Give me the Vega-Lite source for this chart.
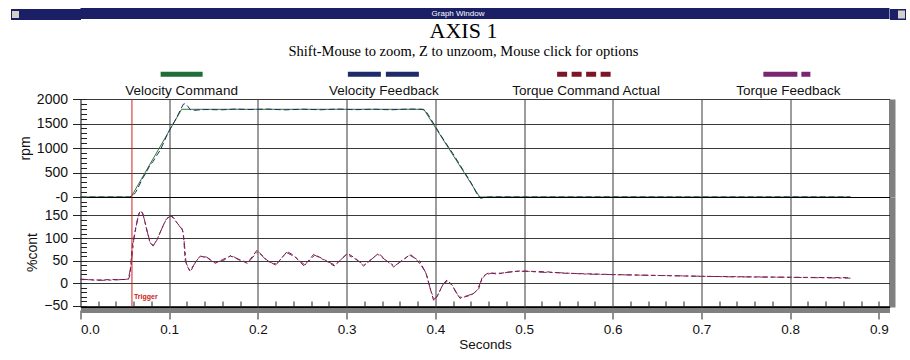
{
  "$schema": "https://vega.github.io/schema/vega-lite/v6.json",
  "background": "white",
  "padding": {"left": 4.5, "top": 7, "right": 0, "bottom": 0},
  "spacing": -1,
  "config": {
    "font": "Liberation Sans",
    "view": {"stroke": "black", "strokeWidth": 1},
    "axis": {"labelFont": "Liberation Sans", "titleFont": "Liberation Sans", "labelColor": "#111111", "titleColor": "#111111", "titleFontWeight": "normal", "tickColor": "#222222", "gridColor": "#3a3a3a", "gridOpacity": 1, "gridWidth": 1, "domain": false},
    "concat": {"spacing": 0}
  },
  "datasets": {
    "legend": [
      {"series": "Velocity Command"},
      {"series": "Velocity Feedback"},
      {"series": "Torque Command Actual"},
      {"series": "Torque Feedback"}
    ],
    "trigger": [{"trigger": 0.058, "label": "Trigger"}],
    "velocity": [
      {"series": "Velocity Command", "t": 0, "value": 0},
      {"series": "Velocity Command", "t": 0.057, "value": 0},
      {"series": "Velocity Command", "t": 0.114, "value": 1790},
      {"series": "Velocity Command", "t": 0.387, "value": 1790},
      {"series": "Velocity Command", "t": 0.45, "value": 0},
      {"series": "Velocity Command", "t": 0.868, "value": 0},
      {"series": "Velocity Feedback", "t": 0, "value": 0},
      {"series": "Velocity Feedback", "t": 0.055, "value": 0},
      {"series": "Velocity Feedback", "t": 0.058, "value": 10},
      {"series": "Velocity Feedback", "t": 0.062, "value": 90},
      {"series": "Velocity Feedback", "t": 0.066, "value": 230},
      {"series": "Velocity Feedback", "t": 0.07, "value": 380},
      {"series": "Velocity Feedback", "t": 0.074, "value": 500},
      {"series": "Velocity Feedback", "t": 0.078, "value": 640},
      {"series": "Velocity Feedback", "t": 0.082, "value": 730},
      {"series": "Velocity Feedback", "t": 0.086, "value": 850},
      {"series": "Velocity Feedback", "t": 0.09, "value": 960},
      {"series": "Velocity Feedback", "t": 0.094, "value": 1120},
      {"series": "Velocity Feedback", "t": 0.098, "value": 1280},
      {"series": "Velocity Feedback", "t": 0.102, "value": 1420},
      {"series": "Velocity Feedback", "t": 0.106, "value": 1540},
      {"series": "Velocity Feedback", "t": 0.11, "value": 1680},
      {"series": "Velocity Feedback", "t": 0.113, "value": 1790},
      {"series": "Velocity Feedback", "t": 0.116, "value": 1895},
      {"series": "Velocity Feedback", "t": 0.118, "value": 1905},
      {"series": "Velocity Feedback", "t": 0.121, "value": 1850},
      {"series": "Velocity Feedback", "t": 0.124, "value": 1775},
      {"series": "Velocity Feedback", "t": 0.128, "value": 1770},
      {"series": "Velocity Feedback", "t": 0.14, "value": 1785},
      {"series": "Velocity Feedback", "t": 0.16, "value": 1780},
      {"series": "Velocity Feedback", "t": 0.175, "value": 1795},
      {"series": "Velocity Feedback", "t": 0.19, "value": 1785},
      {"series": "Velocity Feedback", "t": 0.21, "value": 1795},
      {"series": "Velocity Feedback", "t": 0.23, "value": 1778},
      {"series": "Velocity Feedback", "t": 0.25, "value": 1792},
      {"series": "Velocity Feedback", "t": 0.27, "value": 1780},
      {"series": "Velocity Feedback", "t": 0.29, "value": 1795},
      {"series": "Velocity Feedback", "t": 0.31, "value": 1782},
      {"series": "Velocity Feedback", "t": 0.33, "value": 1792},
      {"series": "Velocity Feedback", "t": 0.35, "value": 1780},
      {"series": "Velocity Feedback", "t": 0.37, "value": 1795},
      {"series": "Velocity Feedback", "t": 0.385, "value": 1790},
      {"series": "Velocity Feedback", "t": 0.389, "value": 1760},
      {"series": "Velocity Feedback", "t": 0.393, "value": 1650},
      {"series": "Velocity Feedback", "t": 0.4, "value": 1440},
      {"series": "Velocity Feedback", "t": 0.41, "value": 1150},
      {"series": "Velocity Feedback", "t": 0.42, "value": 880},
      {"series": "Velocity Feedback", "t": 0.43, "value": 590},
      {"series": "Velocity Feedback", "t": 0.44, "value": 300},
      {"series": "Velocity Feedback", "t": 0.447, "value": 60},
      {"series": "Velocity Feedback", "t": 0.451, "value": -27},
      {"series": "Velocity Feedback", "t": 0.456, "value": -5},
      {"series": "Velocity Feedback", "t": 0.465, "value": 3},
      {"series": "Velocity Feedback", "t": 0.5, "value": 0},
      {"series": "Velocity Feedback", "t": 0.6, "value": 2},
      {"series": "Velocity Feedback", "t": 0.7, "value": 0},
      {"series": "Velocity Feedback", "t": 0.8, "value": 2},
      {"series": "Velocity Feedback", "t": 0.868, "value": 0}
    ],
    "torque": [
      {"series": "Torque Command Actual", "t": 0, "value": 8},
      {"series": "Torque Command Actual", "t": 0.02, "value": 7},
      {"series": "Torque Command Actual", "t": 0.04, "value": 8},
      {"series": "Torque Command Actual", "t": 0.054, "value": 8},
      {"series": "Torque Command Actual", "t": 0.056, "value": 20},
      {"series": "Torque Command Actual", "t": 0.058, "value": 78},
      {"series": "Torque Command Actual", "t": 0.062, "value": 120},
      {"series": "Torque Command Actual", "t": 0.066, "value": 155},
      {"series": "Torque Command Actual", "t": 0.068, "value": 161},
      {"series": "Torque Command Actual", "t": 0.071, "value": 150},
      {"series": "Torque Command Actual", "t": 0.075, "value": 115},
      {"series": "Torque Command Actual", "t": 0.079, "value": 88},
      {"series": "Torque Command Actual", "t": 0.082, "value": 84},
      {"series": "Torque Command Actual", "t": 0.086, "value": 95},
      {"series": "Torque Command Actual", "t": 0.091, "value": 118},
      {"series": "Torque Command Actual", "t": 0.096, "value": 140},
      {"series": "Torque Command Actual", "t": 0.1015, "value": 151},
      {"series": "Torque Command Actual", "t": 0.105, "value": 145},
      {"series": "Torque Command Actual", "t": 0.109, "value": 133},
      {"series": "Torque Command Actual", "t": 0.114, "value": 122},
      {"series": "Torque Command Actual", "t": 0.116, "value": 111},
      {"series": "Torque Command Actual", "t": 0.118, "value": 51},
      {"series": "Torque Command Actual", "t": 0.121, "value": 35},
      {"series": "Torque Command Actual", "t": 0.124, "value": 25},
      {"series": "Torque Command Actual", "t": 0.129, "value": 45},
      {"series": "Torque Command Actual", "t": 0.135, "value": 60},
      {"series": "Torque Command Actual", "t": 0.143, "value": 56},
      {"series": "Torque Command Actual", "t": 0.152, "value": 44},
      {"series": "Torque Command Actual", "t": 0.16, "value": 52},
      {"series": "Torque Command Actual", "t": 0.169, "value": 60},
      {"series": "Torque Command Actual", "t": 0.176, "value": 55},
      {"series": "Torque Command Actual", "t": 0.188, "value": 44},
      {"series": "Torque Command Actual", "t": 0.199, "value": 73},
      {"series": "Torque Command Actual", "t": 0.21, "value": 51},
      {"series": "Torque Command Actual", "t": 0.22, "value": 40},
      {"series": "Torque Command Actual", "t": 0.233, "value": 70},
      {"series": "Torque Command Actual", "t": 0.24, "value": 62},
      {"series": "Torque Command Actual", "t": 0.252, "value": 38},
      {"series": "Torque Command Actual", "t": 0.263, "value": 64},
      {"series": "Torque Command Actual", "t": 0.275, "value": 52},
      {"series": "Torque Command Actual", "t": 0.286, "value": 38},
      {"series": "Torque Command Actual", "t": 0.301, "value": 66},
      {"series": "Torque Command Actual", "t": 0.31, "value": 55},
      {"series": "Torque Command Actual", "t": 0.319, "value": 38},
      {"series": "Torque Command Actual", "t": 0.336, "value": 66},
      {"series": "Torque Command Actual", "t": 0.345, "value": 50},
      {"series": "Torque Command Actual", "t": 0.353, "value": 36},
      {"series": "Torque Command Actual", "t": 0.372, "value": 64},
      {"series": "Torque Command Actual", "t": 0.381, "value": 47},
      {"series": "Torque Command Actual", "t": 0.389, "value": 25},
      {"series": "Torque Command Actual", "t": 0.394, "value": -10},
      {"series": "Torque Command Actual", "t": 0.398, "value": -38},
      {"series": "Torque Command Actual", "t": 0.402, "value": -30},
      {"series": "Torque Command Actual", "t": 0.408, "value": -5},
      {"series": "Torque Command Actual", "t": 0.413, "value": 7},
      {"series": "Torque Command Actual", "t": 0.419, "value": -4},
      {"series": "Torque Command Actual", "t": 0.423, "value": -20},
      {"series": "Torque Command Actual", "t": 0.428, "value": -34},
      {"series": "Torque Command Actual", "t": 0.434, "value": -30},
      {"series": "Torque Command Actual", "t": 0.44, "value": -27},
      {"series": "Torque Command Actual", "t": 0.445, "value": -20},
      {"series": "Torque Command Actual", "t": 0.449, "value": -12},
      {"series": "Torque Command Actual", "t": 0.453, "value": 14},
      {"series": "Torque Command Actual", "t": 0.46, "value": 23},
      {"series": "Torque Command Actual", "t": 0.47, "value": 20},
      {"series": "Torque Command Actual", "t": 0.48, "value": 24},
      {"series": "Torque Command Actual", "t": 0.496, "value": 27},
      {"series": "Torque Command Actual", "t": 0.51, "value": 26},
      {"series": "Torque Command Actual", "t": 0.526, "value": 25},
      {"series": "Torque Command Actual", "t": 0.545, "value": 22},
      {"series": "Torque Command Actual", "t": 0.564, "value": 21},
      {"series": "Torque Command Actual", "t": 0.6, "value": 19},
      {"series": "Torque Command Actual", "t": 0.65, "value": 17},
      {"series": "Torque Command Actual", "t": 0.7, "value": 15},
      {"series": "Torque Command Actual", "t": 0.75, "value": 14},
      {"series": "Torque Command Actual", "t": 0.8, "value": 13},
      {"series": "Torque Command Actual", "t": 0.868, "value": 12},
      {"series": "Torque Feedback", "t": 0, "value": 9},
      {"series": "Torque Feedback", "t": 0.02, "value": 6},
      {"series": "Torque Feedback", "t": 0.04, "value": 7},
      {"series": "Torque Feedback", "t": 0.054, "value": 9},
      {"series": "Torque Feedback", "t": 0.057, "value": 40},
      {"series": "Torque Feedback", "t": 0.06, "value": 95},
      {"series": "Torque Feedback", "t": 0.064, "value": 140},
      {"series": "Torque Feedback", "t": 0.067, "value": 160},
      {"series": "Torque Feedback", "t": 0.07, "value": 156},
      {"series": "Torque Feedback", "t": 0.074, "value": 125},
      {"series": "Torque Feedback", "t": 0.078, "value": 92},
      {"series": "Torque Feedback", "t": 0.082, "value": 82},
      {"series": "Torque Feedback", "t": 0.087, "value": 100},
      {"series": "Torque Feedback", "t": 0.092, "value": 122},
      {"series": "Torque Feedback", "t": 0.097, "value": 143},
      {"series": "Torque Feedback", "t": 0.102, "value": 149},
      {"series": "Torque Feedback", "t": 0.106, "value": 141},
      {"series": "Torque Feedback", "t": 0.11, "value": 130},
      {"series": "Torque Feedback", "t": 0.115, "value": 118},
      {"series": "Torque Feedback", "t": 0.117, "value": 90},
      {"series": "Torque Feedback", "t": 0.119, "value": 45},
      {"series": "Torque Feedback", "t": 0.123, "value": 28},
      {"series": "Torque Feedback", "t": 0.127, "value": 38},
      {"series": "Torque Feedback", "t": 0.134, "value": 58},
      {"series": "Torque Feedback", "t": 0.142, "value": 58},
      {"series": "Torque Feedback", "t": 0.151, "value": 46},
      {"series": "Torque Feedback", "t": 0.161, "value": 50},
      {"series": "Torque Feedback", "t": 0.17, "value": 62},
      {"series": "Torque Feedback", "t": 0.178, "value": 52},
      {"series": "Torque Feedback", "t": 0.189, "value": 46},
      {"series": "Torque Feedback", "t": 0.2, "value": 70},
      {"series": "Torque Feedback", "t": 0.211, "value": 48},
      {"series": "Torque Feedback", "t": 0.221, "value": 42},
      {"series": "Torque Feedback", "t": 0.232, "value": 68},
      {"series": "Torque Feedback", "t": 0.242, "value": 58},
      {"series": "Torque Feedback", "t": 0.253, "value": 40},
      {"series": "Torque Feedback", "t": 0.264, "value": 62},
      {"series": "Torque Feedback", "t": 0.276, "value": 50},
      {"series": "Torque Feedback", "t": 0.287, "value": 40},
      {"series": "Torque Feedback", "t": 0.3, "value": 64},
      {"series": "Torque Feedback", "t": 0.311, "value": 52},
      {"series": "Torque Feedback", "t": 0.32, "value": 40},
      {"series": "Torque Feedback", "t": 0.335, "value": 64},
      {"series": "Torque Feedback", "t": 0.346, "value": 48},
      {"series": "Torque Feedback", "t": 0.354, "value": 38},
      {"series": "Torque Feedback", "t": 0.371, "value": 62},
      {"series": "Torque Feedback", "t": 0.382, "value": 50},
      {"series": "Torque Feedback", "t": 0.39, "value": 20},
      {"series": "Torque Feedback", "t": 0.395, "value": -18},
      {"series": "Torque Feedback", "t": 0.399, "value": -36},
      {"series": "Torque Feedback", "t": 0.403, "value": -26},
      {"series": "Torque Feedback", "t": 0.409, "value": -2},
      {"series": "Torque Feedback", "t": 0.414, "value": 5},
      {"series": "Torque Feedback", "t": 0.42, "value": -8},
      {"series": "Torque Feedback", "t": 0.425, "value": -25},
      {"series": "Torque Feedback", "t": 0.429, "value": -32},
      {"series": "Torque Feedback", "t": 0.436, "value": -28},
      {"series": "Torque Feedback", "t": 0.442, "value": -24},
      {"series": "Torque Feedback", "t": 0.447, "value": -16},
      {"series": "Torque Feedback", "t": 0.451, "value": 2},
      {"series": "Torque Feedback", "t": 0.456, "value": 18},
      {"series": "Torque Feedback", "t": 0.463, "value": 22},
      {"series": "Torque Feedback", "t": 0.475, "value": 22},
      {"series": "Torque Feedback", "t": 0.49, "value": 26},
      {"series": "Torque Feedback", "t": 0.505, "value": 26},
      {"series": "Torque Feedback", "t": 0.52, "value": 24},
      {"series": "Torque Feedback", "t": 0.54, "value": 23},
      {"series": "Torque Feedback", "t": 0.57, "value": 20},
      {"series": "Torque Feedback", "t": 0.62, "value": 18},
      {"series": "Torque Feedback", "t": 0.68, "value": 16},
      {"series": "Torque Feedback", "t": 0.73, "value": 14},
      {"series": "Torque Feedback", "t": 0.79, "value": 13},
      {"series": "Torque Feedback", "t": 0.868, "value": 11}
    ]
  },
  "vconcat": [
    {
      "width": 809,
      "height": 11,
      "view": {"fill": "#1a1f66", "stroke": null},
      "data": {"values": [{"label": "Graph Window"}]},
      "resolve": {"axis": {"y": "independent"}},
      "layer": [
        {
          "mark": {"type": "text", "color": "white", "fontSize": 8, "font": "Liberation Sans", "baseline": "middle", "dx": -27},
          "encoding": {
            "text": {"field": "label"},
            "y": {"datum": 0.5, "type": "quantitative", "scale": {"domain": [0, 1]}, "axis": {"orient": "left", "values": [0.5], "tickSize": 70, "tickWidth": 11, "tickColor": "#1a1f66", "tickOpacity": 1, "labels": false, "grid": false, "domain": false, "title": null}}
          }
        },
        {
          "mark": {"type": "text", "text": ""},
          "encoding": {
            "y": {"datum": 0.5, "type": "quantitative", "axis": {"orient": "right", "values": [0.5], "tickSize": 16, "tickWidth": 11, "tickColor": "#1a1f66", "tickOpacity": 1, "labels": false, "grid": false, "domain": false, "title": null}}
          }
        },
        {
          "mark": {"type": "text", "text": ""},
          "encoding": {
            "y": {"datum": 0.5, "type": "quantitative", "axis": {"orient": "left", "offset": 62, "values": [0.5], "tickSize": 7, "tickWidth": 7, "tickColor": "#d4d0c8", "tickOpacity": 1, "labels": false, "grid": false, "domain": false, "title": null}}
          }
        },
        {
          "mark": {"type": "text", "text": ""},
          "encoding": {
            "y": {"datum": 0.5, "type": "quantitative", "axis": {"orient": "right", "offset": 8, "values": [0.5], "tickSize": 7, "tickWidth": 8, "tickColor": "#d4d0c8", "tickOpacity": 1, "labels": false, "grid": false, "domain": false, "title": null}}
          }
        }
      ]
    },
    {
      "spacing": 0,
      "bounds": "flush",
      "title": {
        "text": "AXIS 1",
        "subtitle": "Shift-Mouse to zoom, Z to unzoom, Mouse click for options",
        "font": "Liberation Serif",
        "fontSize": 22,
        "fontWeight": "normal",
        "color": "black",
        "subtitleFont": "Liberation Serif",
        "subtitleFontSize": 14.5,
        "subtitleColor": "black",
        "subtitlePadding": 2,
        "offset": 7,
        "anchor": "middle",
        "dx": 12
      },
      "vconcat": [
        {
          "width": 809,
          "height": 33,
          "view": {"stroke": null},
          "data": {"name": "legend"},
          "encoding": {
            "x": {"field": "series", "type": "nominal", "bandPosition": 0.5, "scale": {"type": "band", "paddingInner": 0, "paddingOuter": 0, "domain": ["Velocity Command", "Velocity Feedback", "Torque Command Actual", "Torque Feedback"]}, "axis": null}
          },
          "layer": [
            {
              "mark": {
                "type": "rule",
                "strokeWidth": 5,
                "strokeCap": "butt",
                "xOffset": {"expr": "datum.series == 'Velocity Command' ? -21 : datum.series == 'Velocity Feedback' ? -36 : datum.series == 'Torque Command Actual' ? -29 : -25"},
                "x2Offset": {"expr": "datum.series == 'Velocity Command' ? 21 : datum.series == 'Velocity Feedback' ? 35 : datum.series == 'Torque Command Actual' ? 25 : 22"}
              },
              "encoding": {
                "x2": {"field": "series", "bandPosition": 0.5},
                "y": {"datum": "swatch", "type": "nominal", "scale": {"type": "point", "domain": ["swatch", "label"], "padding": 0.5}, "axis": null},
                "color": {"field": "series", "type": "nominal", "scale": {"domain": ["Velocity Command", "Velocity Feedback", "Torque Command Actual", "Torque Feedback"], "range": ["#1f6e38", "#1f2a6b", "#7b1626", "#7a2570"]}, "legend": null},
                "strokeDash": {"field": "series", "type": "nominal", "scale": {"domain": ["Velocity Command", "Velocity Feedback", "Torque Command Actual", "Torque Feedback"], "range": [[1, 0], [33, 5], [10, 4.5], [34, 4, 9, 4]]}, "legend": null}
              }
            },
            {
              "mark": {"type": "text", "fontSize": 13.5, "font": "Liberation Sans", "color": "#111111", "baseline": "middle"},
              "encoding": {
                "text": {"field": "series"},
                "y": {"datum": "label", "type": "nominal"}
              }
            }
          ]
        },
        {
          "width": 809,
          "height": 98,
          "resolve": {"axis": {"y": "independent", "x": "independent"}},
          "layer": [
            {
              "data": {"name": "velocity"},
              "transform": [{"filter": "datum.series == 'Velocity Command'"}],
              "mark": {"type": "line", "color": "#2e7d32", "strokeWidth": 1, "clip": false},
              "encoding": {
                "x": {"field": "t", "type": "quantitative", "scale": {"domain": [0, 0.912], "nice": false, "zero": false}, "axis": {"values": [0.1, 0.2, 0.3, 0.4, 0.5, 0.6, 0.7, 0.8], "grid": true, "labels": false, "ticks": false, "title": null, "domain": false}},
                "y": {"field": "value", "type": "quantitative", "scale": {"domain": [0, 2000], "nice": false}, "axis": {"orient": "left", "values": [0, 500, 1000, 1500, 2000], "format": "d", "labelExpr": "datum.value == 0 ? '-0' : datum.label", "tickSize": 8, "labelPadding": 5, "labelFontSize": 14, "title": "rpm", "titleFontSize": 14, "titlePadding": 4, "grid": true}}
              }
            },
            {
              "data": {"name": "velocity"},
              "transform": [{"filter": "datum.series == 'Velocity Feedback'"}],
              "mark": {"type": "line", "color": "#1f2a6b", "strokeWidth": 1, "strokeDash": [6, 3], "clip": false},
              "encoding": {
                "x": {"field": "t", "type": "quantitative", "axis": null},
                "y": {"field": "value", "type": "quantitative", "axis": {"orient": "left", "values": [0, 100, 200, 300, 400, 500, 600, 700, 800, 900, 1000, 1100, 1200, 1300, 1400, 1500, 1600, 1700, 1800, 1900, 2000], "tickSize": -6, "labels": false, "grid": false, "title": null, "domain": false, "minExtent": 70}}
              }
            },
            {
              "data": {"name": "trigger"},
              "mark": {"type": "rule", "color": "#cc2020", "strokeWidth": 1},
              "encoding": {
                "x": {"field": "trigger", "type": "quantitative", "axis": null},
                "y": {"datum": 0, "type": "quantitative", "axis": {"orient": "right", "domain": true, "domainColor": "#808080", "domainWidth": 5, "offset": 3, "ticks": false, "labels": false, "grid": false, "title": null}},
                "y2": {"datum": 2000}
              }
            }
          ]
        },
        {
          "width": 809,
          "height": 110,
          "resolve": {"axis": {"y": "independent", "x": "independent"}},
          "layer": [
            {
              "data": {"name": "torque"},
              "transform": [{"filter": "datum.series == 'Torque Command Actual'"}],
              "mark": {"type": "line", "color": "#7b1626", "strokeWidth": 1, "strokeDash": [5, 3]},
              "encoding": {
                "x": {"field": "t", "type": "quantitative", "scale": {"domain": [0, 0.912], "nice": false, "zero": false}, "axis": {"orient": "bottom", "values": [0, 0.1, 0.2, 0.3, 0.4, 0.5, 0.6, 0.7, 0.8, 0.9], "format": ".1f", "grid": false, "tickSize": 9, "offset": 3, "domain": true, "domainColor": "#808080", "domainWidth": 5, "labelFontSize": 13.5, "labelPadding": 3, "title": "Seconds", "titleFontSize": 13.5, "titlePadding": 2}},
                "y": {"field": "value", "type": "quantitative", "scale": {"domain": [-53, 191], "nice": false, "zero": false}, "axis": {"orient": "left", "values": [-50, 0, 50, 100, 150], "format": "d", "tickSize": 8, "labelPadding": 5, "labelFontSize": 14, "title": "%cont", "titleFontSize": 14, "titlePadding": 4, "grid": true}}
              }
            },
            {
              "data": {"name": "torque"},
              "transform": [{"filter": "datum.series == 'Torque Feedback'"}],
              "mark": {"type": "line", "color": "#7a2570", "strokeWidth": 1, "strokeDash": [8, 3, 3, 3]},
              "encoding": {
                "x": {"field": "t", "type": "quantitative", "axis": {"orient": "bottom", "values": [0.02, 0.04, 0.06, 0.08, 0.12, 0.14, 0.16, 0.18, 0.22, 0.24, 0.26, 0.28, 0.32, 0.34, 0.36, 0.38, 0.42, 0.44, 0.46, 0.48, 0.52, 0.54, 0.56, 0.58, 0.62, 0.64, 0.66, 0.68, 0.72, 0.74, 0.76, 0.78, 0.82, 0.84, 0.86, 0.88, 0.9], "tickSize": -6, "labels": false, "grid": false, "domain": false, "title": null}},
                "y": {"field": "value", "type": "quantitative", "axis": {"orient": "left", "values": [-50, -40, -30, -20, -10, 0, 10, 20, 30, 40, 50, 60, 70, 80, 90, 100, 110, 120, 130, 140, 150, 160, 170, 180, 190], "tickSize": -6, "labels": false, "grid": false, "title": null, "domain": false, "minExtent": 70}}
              }
            },
            {
              "data": {"name": "trigger"},
              "mark": {"type": "rule", "color": "#cc2020", "strokeWidth": 1},
              "encoding": {
                "x": {"field": "trigger", "type": "quantitative", "axis": {"orient": "bottom", "values": [0.1, 0.2, 0.3, 0.4, 0.5, 0.6, 0.7, 0.8], "grid": true, "labels": false, "ticks": false, "domain": false, "title": null}},
                "y": {"datum": -53, "type": "quantitative", "axis": {"orient": "right", "domain": true, "domainColor": "#808080", "domainWidth": 5, "offset": 3, "ticks": false, "labels": false, "grid": false, "title": null}},
                "y2": {"datum": 191}
              }
            },
            {
              "data": {"name": "trigger"},
              "mark": {"type": "text", "color": "#cc2020", "fontSize": 7, "fontWeight": "bold", "align": "left", "baseline": "middle", "dx": 2},
              "encoding": {
                "x": {"field": "trigger", "type": "quantitative", "axis": null},
                "y": {"datum": -31, "type": "quantitative", "axis": null},
                "text": {"field": "label"}
              }
            }
          ]
        }
      ]
    }
  ]
}
